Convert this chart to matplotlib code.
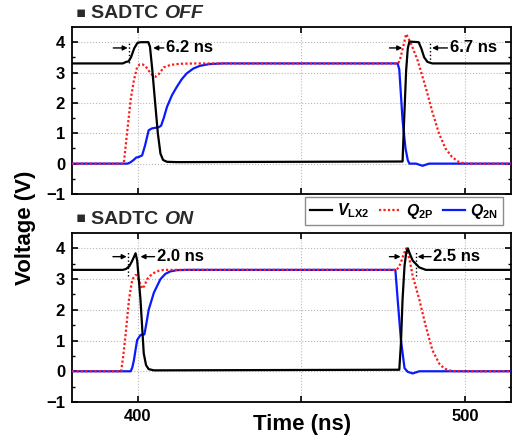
import matplotlib
matplotlib.use('Agg')
import matplotlib.pyplot as plt

plt.rcParams['font.family'] = ['Liberation Sans', 'DejaVu Sans']
plt.rcParams['font.weight'] = 'bold'
plt.rcParams['mathtext.fontset'] = 'custom'
plt.rcParams['mathtext.it'] = 'Liberation Sans:bold:italic'
plt.rcParams['mathtext.rm'] = 'Liberation Sans:bold'
plt.rcParams['mathtext.bf'] = 'Liberation Sans:bold'

# SADTC off
t_vlx_off = [380, 395.5, 396.5, 397.3, 398, 399, 400, 401, 403.3, 403.8, 404.5, 405.3, 406.2, 407.0, 407.8, 409, 412,
             480.9, 481.4, 482.0, 482.5, 483.0, 485.8, 486.6, 487.5, 488.5, 490, 515]
v_vlx_off = [3.3, 3.3, 3.35, 3.37, 3.5, 3.8, 3.98, 4.0, 4.0, 3.85, 3.1, 2.1, 1.0, 0.33, 0.12, 0.06, 0.05,
             0.07, 1.5, 3.08, 3.8, 4.02, 4.0, 3.8, 3.5, 3.35, 3.3, 3.3]
t_q2p_off = [380, 395.8, 396.4, 396.9, 397.9, 398.9, 399.9, 400.7, 401.5, 402.5, 403.5, 404.5, 405.5, 406.5, 408,
             410, 413, 418, 479.6, 480.3, 481.2, 482.0, 483.5, 485.5, 488, 490, 492, 494, 496, 498, 500, 515]
v_q2p_off = [0, 0, 0.6, 1.1, 2.1, 2.75, 3.19, 3.27, 3.27, 3.2, 3.05, 2.92, 2.86, 2.95, 3.17,
             3.25, 3.29, 3.3, 3.3, 3.5, 3.9, 4.27, 3.95, 3.4, 2.5, 1.7, 1.0, 0.5, 0.22, 0.06, 0.0, 0.0]
t_q2n_off = [380, 396.9, 397.8, 398.8, 399.6, 400.4, 401.4, 402.3, 403.4, 404.4, 406.5, 407.2, 408, 409, 410.5,
             412, 413.5, 415, 417, 419, 422, 426, 479.4, 479.9, 480.9, 481.8, 482.5, 483.0, 485, 487, 489, 515]
v_q2n_off = [0, 0, 0.04, 0.12, 0.2, 0.22, 0.27, 0.6, 1.1, 1.16, 1.2, 1.25, 1.5, 1.87, 2.25,
             2.53, 2.78, 2.97, 3.13, 3.22, 3.28, 3.3, 3.3, 3.1, 1.43, 0.5, 0.11, 0.0, 0.0, -0.07, 0.0, 0.0]

# SADTC on
t_vlx_on = [380, 395.5, 396.5, 397.5, 398.4, 399.4, 399.9, 400.9, 401.9, 402.6, 403.4, 405,
            479.9, 480.4, 480.9, 481.5, 482.0, 482.5, 483.2, 484, 486, 488, 515]
v_vlx_on = [3.3, 3.3, 3.33, 3.42, 3.6, 3.84, 3.6, 2.34, 0.58, 0.2, 0.07, 0.03,
            0.05, 0.9, 2.34, 3.43, 3.85, 4.0, 3.8, 3.6, 3.38, 3.3, 3.3]
t_q2p_on = [380, 395.0, 395.7, 396.4, 397.4, 398.4, 399.4, 399.9, 400.6, 401.4, 402.1, 402.9, 404, 405, 406.5, 408,
            479.0, 479.7, 480.4, 481.2, 482.0, 483.0, 484, 486, 488, 490, 492.1, 493.5, 495, 497, 515]
v_q2p_on = [0, 0, 0.55, 1.24, 2.34, 2.99, 3.13, 3.12, 2.9, 2.69, 2.78, 2.99, 3.12, 3.2, 3.27, 3.3,
            3.3, 3.38, 3.54, 3.8, 4.0, 3.65, 3.1, 2.34, 1.46, 0.69, 0.25, 0.1, 0.03, 0.0, 0.0]
t_q2n_on = [380, 397.9, 398.4, 398.9, 399.4, 399.9, 400.9, 402.1, 402.7, 403.4, 405, 407, 408.5, 410, 412, 415,
            478.7, 479.0, 479.4, 480.4, 481.5, 482.5, 484, 486, 515]
v_q2n_on = [0, 0, 0.12, 0.36, 0.7, 1.02, 1.18, 1.2, 1.55, 2.0, 2.56, 3.0, 3.17, 3.25, 3.29, 3.3,
            3.3, 2.9, 2.34, 1.02, 0.1, -0.02, -0.07, 0.0, 0.0]

fig = plt.figure(figsize=(5.12, 4.4), dpi=100)
ax1 = fig.add_axes([72/512, 1-194/440, 439/512, 167/440])
ax2 = fig.add_axes([72/512, 1-402/440, 439/512, 169/440])


def style_axis(ax, show_x):
    ax.set_xlim(380, 514)
    ax.set_ylim(-1, 4.5)
    ax.set_xticks([400, 450, 500])
    ax.set_xticklabels(['400', '', '500'] if show_x else ['', '', ''])
    ax.set_yticks([-1, 0, 1, 2, 3, 4])
    ax.set_yticks([-0.5, 0.5, 1.5, 2.5, 3.5], minor=True)
    ax.tick_params(direction='in', top=True, right=True, length=4, width=1.2, labelsize=12, pad=5)
    ax.tick_params(which='minor', direction='in', right=True, length=2.5, width=1.0)
    ax.grid(True, which='major', ls=':', color='#b8b8b8', lw=0.8)
    for s in ax.spines.values():
        s.set_linewidth(1.3)
    for lab in ax.get_xticklabels() + ax.get_yticklabels():
        lab.set_fontweight('bold')


def draw(ax, tv, vv, tp, vp, tn, vn):
    ax.plot(tv, vv, color='black', lw=1.6, zorder=5, label=r'$V_{\mathrm{LX2}}$')
    ax.plot(tp, vp, color='#ff1a1a', lw=1.6, ls=(0, (1, 1)), zorder=4, label=r'$Q_{\mathrm{2P}}$')
    ax.plot(tn, vn, color='#0a1aff', lw=1.6, zorder=3, label=r'$Q_{\mathrm{2N}}$')


def span(ax, t_in, x_dot, y_dot, t_out_from, t_out_to, y, text):
    arr = dict(arrowstyle='-|>', color='black', lw=1.0, mutation_scale=7, shrinkA=0, shrinkB=0)
    ax.annotate('', xy=(t_in[1], y), xytext=(t_in[0], y), arrowprops=arr, zorder=6)
    ax.plot([x_dot, x_dot], y_dot, color='black', lw=1.0, ls=':', zorder=6)
    ax.annotate('', xy=(t_out_to, y), xytext=(t_out_from, y), arrowprops=arr, zorder=6)
    ax.text(t_out_from + 0.7, y, text, fontsize=12, fontweight='bold', va='center', ha='left', zorder=6)


draw(ax1, t_vlx_off, v_vlx_off, t_q2p_off, v_q2p_off, t_q2n_off, v_q2n_off)
draw(ax2, t_vlx_on, v_vlx_on, t_q2p_on, v_q2p_on, t_q2n_on, v_q2n_on)
style_axis(ax1, False)
style_axis(ax2, True)

span(ax1, (392.6, 397.0), 397.4, (3.3, 4.02), 408.0, 404.8, 3.81, '6.2 ns')
span(ax1, (476.9, 480.8), 489.3, (3.3, 4.0), 494.6, 489.9, 3.81, '6.7 ns')
span(ax2, (392.5, 396.7), 397.2, (3.1, 3.87), 405.2, 400.9, 3.73, '2.0 ns')
span(ax2, (476.9, 480.3), 485.0, (3.1, 3.9), 489.6, 485.5, 3.73, '2.5 ns')

# panel headers: "▪ SADTC" upright, state in italics
for ax, y, state in [(ax1, 1-18.5/440, 'OFF'), (ax2, 1-223.5/440, 'ON')]:
    fig.text(76/512, y + 0.003, '\u25aa', fontsize=11, family='DejaVu Sans', va='baseline', color='#2a2a2a')
    t1 = fig.text(91/512, y, 'SADTC ', fontsize=14, fontweight='bold', va='baseline', color='#2a2a2a')
    ax.annotate(state, xy=(1, 0), xycoords=t1, fontsize=14, fontweight='bold', style='italic',
                va='bottom', ha='left', annotation_clip=False, color='#2a2a2a')

h, l = ax1.get_legend_handles_labels()
leg = fig.legend(h, l, loc='upper left', bbox_to_anchor=(305/512, 1-197/440), ncol=3, fontsize=11.3,
                 frameon=True, fancybox=False, edgecolor='#707070', handlelength=1.4, handletextpad=0.35,
                 columnspacing=0.6, borderpad=0.3, borderaxespad=0)
leg.get_frame().set_linewidth(1.0)

fig.text(0.049, 0.483, 'Voltage (V)', rotation=90, fontsize=16, fontweight='bold', va='center', ha='center')
fig.text(302/512, 1-424/440, 'Time (ns)', fontsize=16, fontweight='bold', va='center', ha='center')

fig.savefig('out.png', dpi=100)
